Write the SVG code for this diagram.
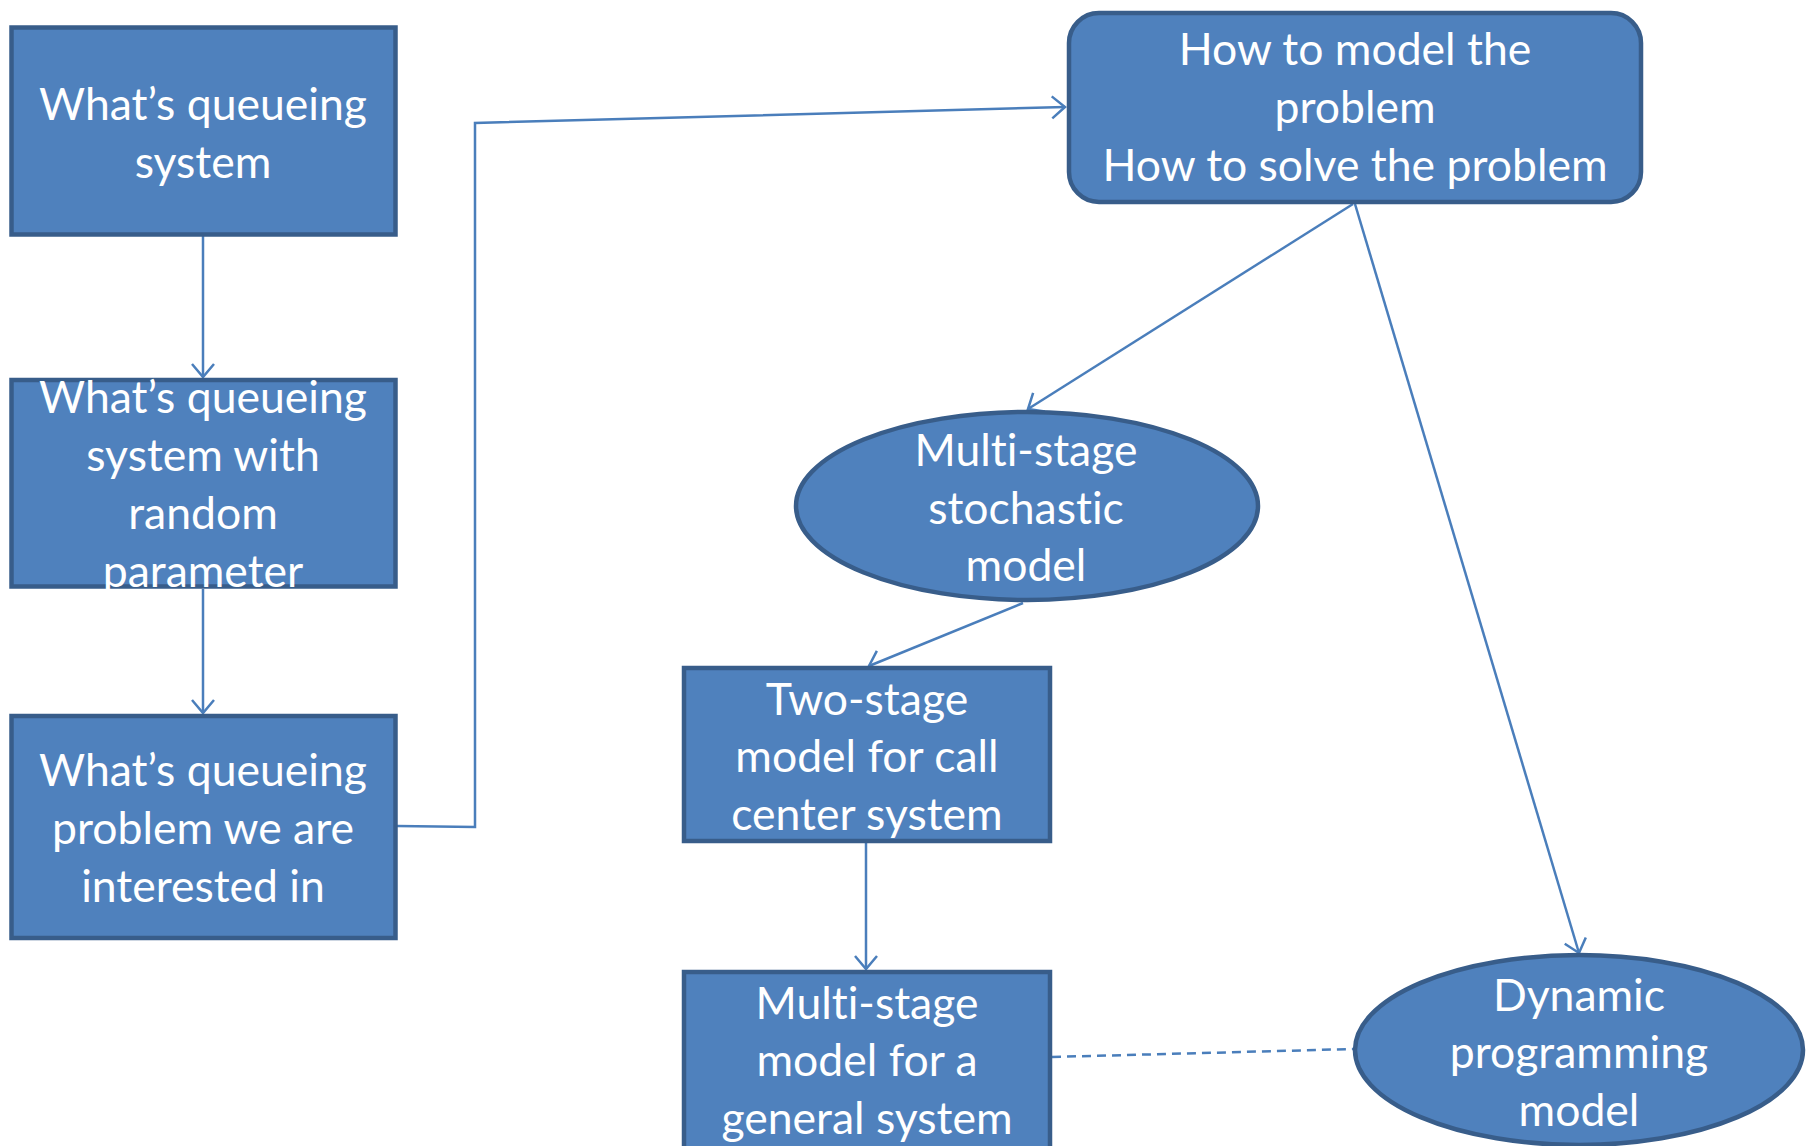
<svg xmlns="http://www.w3.org/2000/svg" width="1806" height="1146" viewBox="0 0 1806 1146">
  <style>
    .shape { fill: #4F81BD; stroke: #385D8A; stroke-width: 4.5; }
    .label { fill: #FFFFFF; font-family: Lato, "Open Sans", "Liberation Sans", sans-serif; font-size: 44.5px; text-anchor: middle; font-variant-ligatures: none; font-feature-settings: "liga" 0, "dlig" 0; }
    .link { fill: none; stroke: #4A7EBB; stroke-width: 2.5; }
    .dashed { stroke-dasharray: 9 6; }
  </style>
  <defs>
    <marker id="arrow" markerUnits="userSpaceOnUse" markerWidth="30" markerHeight="30" viewBox="-16 -15 20 30" refX="0" refY="0" orient="auto">
      <path d="M -13 -11 L 0 0 L -13 11" fill="none" stroke="#4A7EBB" stroke-width="2.5"/>
    </marker>
  </defs>

  <rect width="1806" height="1146" fill="#FFFFFF"/>

  <!-- connectors -->
  <g id="connectors">
    <line class="link" x1="203" y1="236" x2="203" y2="377" marker-end="url(#arrow)"/>
    <line class="link" x1="203" y1="589" x2="203" y2="713" marker-end="url(#arrow)"/>
    <polyline class="link" points="397,826 475,827 475,123 1065,107" marker-end="url(#arrow)"/>
    <line class="link" x1="1353" y1="204" x2="1028" y2="409" marker-end="url(#arrow)"/>
    <line class="link" x1="1355" y1="204" x2="1579" y2="953" marker-end="url(#arrow)"/>
    <line class="link" x1="1023" y1="603" x2="869" y2="666" marker-end="url(#arrow)"/>
    <line class="link" x1="866" y1="843" x2="866" y2="969" marker-end="url(#arrow)"/>
    <line class="link dashed" x1="1052" y1="1057" x2="1354" y2="1049"/>
  </g>

  <!-- nodes -->
  <g id="node-queueing-system">
    <rect class="shape" x="11.5" y="27.5" width="384" height="207"/>
    <text class="label" x="203"><tspan x="203" y="120">What’s queueing</tspan><tspan x="203" y="178">system</tspan></text>
  </g>

  <g id="node-random-parameter">
    <rect class="shape" x="11.5" y="380" width="384" height="206.5"/>
    <text class="label" x="203"><tspan x="203" y="413">What’s queueing</tspan><tspan x="203" y="471">system with</tspan><tspan x="203" y="529">random</tspan><tspan x="203" y="587">parameter</tspan></text>
  </g>

  <g id="node-queueing-problem">
    <rect class="shape" x="11.5" y="716" width="384" height="222"/>
    <text class="label" x="203"><tspan x="203" y="786">What’s queueing</tspan><tspan x="203" y="844">problem we are</tspan><tspan x="203" y="902">interested in</tspan></text>
  </g>

  <g id="node-how-to">
    <rect class="shape" x="1069" y="13" width="572" height="189" rx="30" ry="30"/>
    <text class="label" x="1355"><tspan x="1355" y="65">How to model the</tspan><tspan x="1355" y="123">problem</tspan><tspan x="1355" y="181">How to solve the problem</tspan></text>
  </g>

  <g id="node-multistage-stochastic">
    <ellipse class="shape" cx="1027" cy="506" rx="231" ry="94"/>
    <text class="label" x="1026"><tspan x="1026" y="466">Multi-stage</tspan><tspan x="1026" y="524">stochastic</tspan><tspan x="1026" y="581">model</tspan></text>
  </g>

  <g id="node-two-stage">
    <rect class="shape" x="684" y="668" width="366" height="173"/>
    <text class="label" x="867"><tspan x="867" y="715">Two-stage</tspan><tspan x="867" y="772">model for call</tspan><tspan x="867" y="830">center system</tspan></text>
  </g>

  <g id="node-multistage-general">
    <rect class="shape" x="684" y="972" width="366" height="200"/>
    <text class="label" x="867"><tspan x="867" y="1019">Multi-stage</tspan><tspan x="867" y="1076">model for a</tspan><tspan x="867" y="1134">general system</tspan></text>
  </g>

  <g id="node-dynamic-programming">
    <ellipse class="shape" cx="1579" cy="1050" rx="224" ry="95"/>
    <text class="label" x="1579"><tspan x="1579" y="1011">Dynamic</tspan><tspan x="1579" y="1068">programming</tspan><tspan x="1579" y="1126">model</tspan></text>
  </g>
</svg>
